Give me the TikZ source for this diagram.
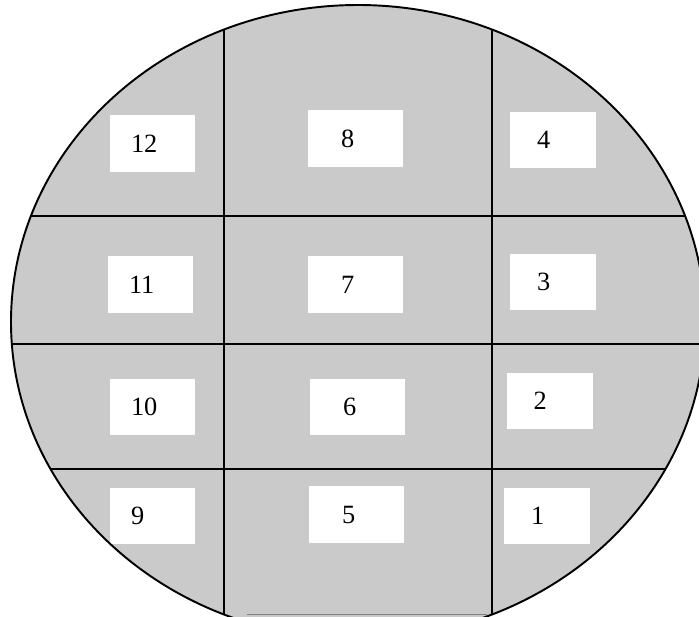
\documentclass[tikz,border=0pt]{standalone}
\usepackage{fontspec}
\setmainfont{Liberation Serif}
\definecolor{waferfill}{RGB}{202,202,202}
\definecolor{flatedge}{RGB}{128,128,128}
\tikzset{
  wafer/.style={fill=waferfill},
  waferedge/.style={draw=black, line width=1.1pt},
  cutline/.style={draw=black, line width=1pt},
  die/.style={rectangle, fill=white, inner ysep=0pt,
    minimum height=1.13cm, align=left,
    font=\fontsize{15}{18}\selectfont},
  leftdie/.style={die, text width=0.86cm, inner xsep=0.42cm},
  middie/.style={die, text width=0.58cm, inner xsep=0.66cm},
  rightdie/.style={die, text width=0.64cm, inner xsep=0.54cm},
}

\begin{document}
\begin{tikzpicture}[x=0.02cm, y=-0.02cm]

\useasboundingbox (0,0) rectangle (699,616);
\clip (0,0) rectangle (699,616);

% Wafer
\path[wafer] (358,322) ellipse [x radius=347, y radius=317];

% Saw lines
\begin{scope}
  \clip (358,322) ellipse [x radius=347, y radius=317];
  \foreach \gx in {224,492}
    \draw[cutline] (\gx,0) -- (\gx,616);
  \foreach \gy in {216,344,469}
    \draw[cutline] (0,\gy) -- (699,\gy);
\end{scope}

% Flat
\draw[flatedge, line width=0.6pt] (247,614.5) -- (487,614.5);

% Left column
\node (d12) [leftdie] at (152.5,143.5) {12};
\node (d11) [leftdie] at (150.5,284.5) {11};
\node (d10) [leftdie] at (152.5,407)   {10};
\node (d9)  [leftdie] at (152.5,516)   {9};

% Middle column
\node (d8) [middie] at (355.5,138.5) {8};
\node (d7) [middie] at (355.5,284.5) {7};
\node (d6) [middie] at (357.5,407)   {6};
\node (d5) [middie, minimum height=1.15cm] at (356.5,514.5) {5};

% Right column
\node (d4) [rightdie] at (553,140)   {4};
\node (d3) [rightdie] at (553,282)   {3};
\node (d2) [rightdie] at (549.5,401) {2};
\node (d1) [rightdie] at (547,516)   {1};

% Wafer edge
\draw[waferedge] (358,322) ellipse [x radius=347, y radius=317];

\end{tikzpicture}
\end{document}
